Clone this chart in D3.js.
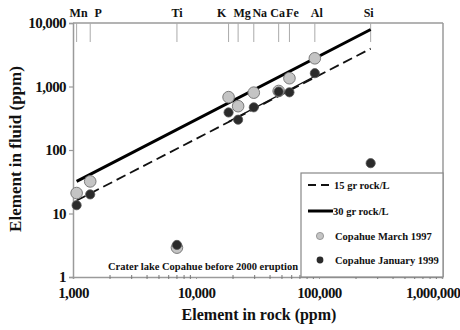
<!DOCTYPE html>
<html>
<head>
<meta charset="utf-8">
<script src="https://cdn.jsdelivr.net/npm/d3@7"></script>
<style>
  html, body { margin: 0; padding: 0; background: #fff; }
  svg { display: block; font-family: "Liberation Serif", "Times New Roman", serif; font-weight: bold; }
</style>
</head>
<body>
<svg id="chart" width="460" height="330"></svg>
<script>
// ---- data ----
const elements = ["Mn", "P", "Ti", "K", "Mg", "Na", "Ca", "Fe", "Al", "Si"];
const rockPpm = [1070, 1380, 7000, 18400, 22000, 29500, 47000, 57500, 92500, 263000];
const march1997 = [21, 32, 2.9, 680, 490, 800, 850, 1350, 2780, null];
const january1999 = [13.5, 20, 3.2, 390, 300, 470, 830, 810, 1620, 62];
const line15 = [[1070, 16], [263000, 3945]];
const line30 = [[1070, 32], [263000, 7890]];
const fit1999 = [[18400, 280], [92500, 1450]];
const xTickValues = [1000, 10000, 100000, 1000000];
const yTickValues = [1, 10, 100, 1000, 10000];
const legendLabels = ["15 gr rock/L", "30 gr rock/L", "Copahue March 1997", "Copahue January 1999"];
const noteText = "Crater lake Copahue before 2000 eruption";
const xTitle = "Element in rock (ppm)";
const yTitle = "Element in fluid (ppm)";

// ---- layout ----
const svg = d3.select("#chart");
const L = 73, R = 442, T = 23, B = 277;
const x = d3.scaleLog().domain([1000, 1000000]).range([L, R]);
const y = d3.scaleLog().domain([1, 10000]).range([B, T]);
const fmt = d3.format(",");
const axisColor = "#9a9a9a";

// frame top and right
svg.append("line").attr("x1", L).attr("x2", R + 1).attr("y1", T).attr("y2", T)
  .attr("stroke", axisColor).attr("stroke-width", 1.5);
svg.append("line").attr("x1", R + 1).attr("x2", R + 1).attr("y1", T).attr("y2", B)
  .attr("stroke", axisColor).attr("stroke-width", 1.5);

// y axis
const yAxis = svg.append("g").attr("transform", `translate(${L},0)`)
  .call(d3.axisLeft(y).tickValues(yTickValues).tickFormat(fmt).tickSize(4).tickPadding(3));
yAxis.select(".domain").attr("stroke", axisColor).attr("stroke-width", 1.5);
yAxis.selectAll(".tick line").attr("stroke", axisColor).attr("stroke-width", 1.2);
yAxis.selectAll(".tick text").attr("font-size", 15).attr("letter-spacing", -0.6)
  .attr("font-family", "Liberation Serif").attr("font-weight", "bold").attr("fill", "#111");

// x axis
const xAxis = svg.append("g").attr("transform", `translate(0,${B})`)
  .call(d3.axisBottom(x).tickValues(xTickValues).tickFormat(fmt).tickSize(2).tickPadding(8));
xAxis.select(".domain").attr("stroke", axisColor).attr("stroke-width", 1.5);
xAxis.selectAll(".tick line").attr("stroke", axisColor);
xAxis.selectAll(".tick text").attr("font-size", 15).attr("letter-spacing", -0.6)
  .attr("font-family", "Liberation Serif").attr("font-weight", "bold").attr("fill", "#111");
xAxis.selectAll(".tick text").filter(d => d === 1000000)
  .attr("text-anchor", "end").attr("x", 460 - x(1000000));

// minor x ticks
const minors = [];
[1000, 10000, 100000].forEach(dec => { for (let k = 2; k <= 9; k++) minors.push(dec * k); });
svg.append("g").selectAll("line").data(minors).join("line")
  .attr("x1", d => x(d)).attr("x2", d => x(d)).attr("y1", B - 2).attr("y2", B + 2)
  .attr("stroke", "#777").attr("stroke-width", 1);

// element ticks along top
const nudge = { P: 8, K: -7, Mg: 4, Na: 6, Fe: 3, Mn: 2, Ca: -1, Al: 2, Si: -2 };
const topG = svg.append("g");
topG.selectAll("line").data(elements).join("line")
  .attr("x1", (d, i) => x(rockPpm[i])).attr("x2", (d, i) => x(rockPpm[i]))
  .attr("y1", T).attr("y2", T + 19)
  .attr("stroke", "#aaa").attr("stroke-width", 1);
topG.selectAll("text").data(elements).join("text")
  .attr("x", (d, i) => x(rockPpm[i]) + (nudge[d] || 0)).attr("y", 17)
  .attr("text-anchor", "middle").attr("font-size", 12).attr("fill", "#111")
  .text(d => d);

// lines
const lineGen = d3.line().x(d => x(d[0])).y(d => y(d[1]));
svg.append("path").attr("d", lineGen(line15)).attr("fill", "none")
  .attr("stroke", "#111").attr("stroke-width", 1.8).attr("stroke-dasharray", "10,5");
svg.append("path").attr("d", lineGen(fit1999)).attr("fill", "none")
  .attr("stroke", "#111").attr("stroke-width", 1.4);
svg.append("path").attr("d", lineGen(line30)).attr("fill", "none")
  .attr("stroke", "#000").attr("stroke-width", 3);

// points
const grayPts = elements.map((e, i) => [rockPpm[i], march1997[i]]).filter(d => d[1] != null);
const darkPts = elements.map((e, i) => [rockPpm[i], january1999[i]]).filter(d => d[1] != null);
svg.append("g").selectAll("circle").data(grayPts).join("circle")
  .attr("cx", d => x(d[0])).attr("cy", d => y(d[1])).attr("r", 5.8)
  .attr("fill", "#c4c4c4").attr("stroke", "#7a7a7a").attr("stroke-width", 1);
svg.append("g").selectAll("circle").data(darkPts).join("circle")
  .attr("cx", d => x(d[0])).attr("cy", d => y(d[1])).attr("r", 4.6)
  .attr("fill", "#2b2b2b").attr("stroke", "#555").attr("stroke-width", 0.8);

// note
svg.append("text").attr("x", 108).attr("y", 270).attr("font-size", 10.5).attr("fill", "#111")
  .text(noteText);

// legend
const lg = svg.append("g");
lg.append("rect").attr("x", 301).attr("y", 173).attr("width", R + 1 - 301).attr("height", B - 173)
  .attr("fill", "#fff").attr("stroke", "#888").attr("stroke-width", 1.2);
const rowY = [185, 211, 236, 260];
lg.append("line").attr("x1", 308).attr("x2", 331).attr("y1", rowY[0]).attr("y2", rowY[0])
  .attr("stroke", "#111").attr("stroke-width", 1.8).attr("stroke-dasharray", "8,5");
lg.append("line").attr("x1", 308).attr("x2", 333).attr("y1", rowY[1]).attr("y2", rowY[1])
  .attr("stroke", "#000").attr("stroke-width", 3);
lg.append("circle").attr("cx", 320).attr("cy", rowY[2]).attr("r", 3.6)
  .attr("fill", "#c4c4c4").attr("stroke", "#888").attr("stroke-width", 0.8);
lg.append("circle").attr("cx", 320).attr("cy", rowY[3]).attr("r", 3.4)
  .attr("fill", "#2b2b2b");
const textX = [334, 333, 335, 335];
lg.selectAll("text").data(legendLabels).join("text")
  .attr("x", (d, i) => textX[i]).attr("y", (d, i) => rowY[i] + 3.8)
  .attr("font-size", 10.5).attr("fill", "#111").text(d => d);

// axis titles
svg.append("text").attr("x", 259).attr("y", 320).attr("text-anchor", "middle")
  .attr("font-size", 16).attr("fill", "#111").text(xTitle);
svg.append("text").attr("transform", "translate(21,149) rotate(-90)").attr("text-anchor", "middle")
  .attr("font-size", 17).attr("fill", "#111").text(yTitle);
</script>
</body>
</html>
